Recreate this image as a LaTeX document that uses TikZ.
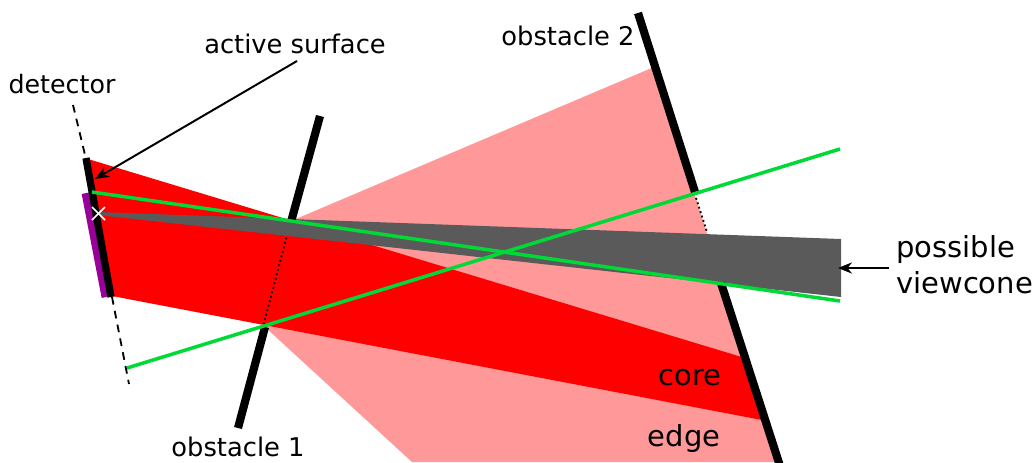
\documentclass[tikz,border=0pt]{standalone}
\usepackage{fontspec}
\setmainfont{DejaVu Sans}
\usepackage{xcolor}
\usetikzlibrary{positioning, arrows.meta}
\definecolor{edgepink}{HTML}{FF9999}
\definecolor{coregray}{HTML}{5A5A5A}
\definecolor{raygreen}{HTML}{00D936}
\definecolor{sensorpurple}{HTML}{990099}
\tikzset{
  wall/.style={line width=5.8pt, black},
  ray/.style={line width=2.5pt, raygreen},
  hidden/.style={line width=1.3pt, dotted, black},
  guide/.style={line width=1.3pt, dash pattern=on 5.5pt off 4.5pt},
  label/.style={font=\fontsize{18.3}{25.6}\selectfont, inner sep=0pt},
  biglabel/.style={font=\fontsize{20.6}{25.6}\selectfont, inner sep=0pt},
  pointer/.style={-{Stealth[length=10pt,width=8pt]}, line width=1.4pt}
}
\begin{document}
\begin{tikzpicture}[x=0.025cm, y=-0.025cm]
\useasboundingbox (0,0) rectangle (1036,462);
\fill[edgepink] (291,221) -- (654,67) -- (780,462) -- (412,462) -- (265,327) -- cycle;
\fill[red] (88,159) -- (745,358) -- (762,420) -- (112,296) -- cycle;
\draw[hidden] (290,224) -- (263,327);
\draw[hidden] (696,198) -- (707,232);
\fill[coregray] (98,212) -- (841,239) -- (841,297) -- (98,215) -- cycle;
\draw[wall] (320,116) -- (291,222);
\draw[wall] (265,327) -- (238,428);
\draw[wall] (638,13) -- (695,192);
\draw[wall] (721,283) -- (780,466);
\draw[guide] (73,105) -- (86,159);
\draw[guide] (112,297) -- (129,384);
\draw[line width=7pt, sensorpurple] (86.5,193) -- (106.5,297);
\draw[wall, line width=5.2pt] (86,158) -- (111,297);
\draw[ray] (92,192) -- (840,301);
\draw[ray] (127,368) -- (840,149);
\draw[white, line width=1.1pt] (92,207) -- (105,220);
\draw[white, line width=1.1pt] (92,220) -- (105,207);
\node[label] (active) at (295,44) {active surface};
\node[label, font=\fontsize{18}{25.6}\selectfont] (detector) at (62,84) {detector};
\node[label] (obstacletwo) at (568,36) {obstacle 2};
\node[label] (obstacleone) at (238,447) {obstacle 1};
\node[biglabel] (core) at (690,378) {core};
\node[biglabel] (edge) at (684,438) {edge};
\node[biglabel, align=left, anchor=west] (viewcone) at (896,265) {possible\\viewcone};
\coordinate (activetip) at (95,179);
\coordinate (viewconetip) at (838,268);
\draw[pointer] (297,61) -- (activetip);
\draw[pointer] (889,268) -- (viewconetip);
\end{tikzpicture}
\end{document}
